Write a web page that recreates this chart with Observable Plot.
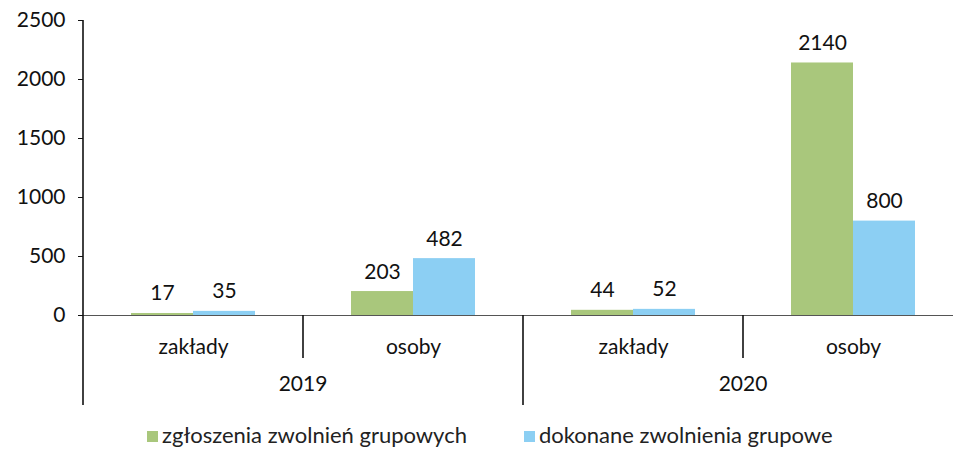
<!DOCTYPE html>
<html>
<head>
<meta charset="utf-8">
<script src="https://cdn.jsdelivr.net/npm/d3@7"></script>
<script src="https://cdn.jsdelivr.net/npm/@observablehq/plot@0.6"></script>
<style>
  html, body { margin: 0; padding: 0; background: #fff; overflow: hidden; }
  body { width: 953px; height: 452px; font-family: Lato, "Open Sans", sans-serif; }
  #chart { width: 953px; height: 415px; overflow: hidden; }
  #chart svg { display: block; overflow: visible; max-width: none !important; width: 963px; height: 415px; }
  .legend { display: flex; align-items: center; margin-left: 147px; margin-top: 6px; gap: 57px; font-size: 22px; color: #222; }
  .legend .item { display: flex; align-items: center; }
  .legend .sw { width: 11px; height: 11px; margin-right: 4px; margin-top: 4px; }
</style>
</head>
<body>
<div id="chart"></div>
<script>
// ---- data ----
const years = ["2019", "2020"];
const subcategories = ["zakłady", "osoby"];
const seriesNames = ["zgłoszenia zwolnień grupowych", "dokonane zwolnienia grupowe"];
const zgloszenia = [17, 203, 44, 2140];   // 2019 zakłady, 2019 osoby, 2020 zakłady, 2020 osoby
const dokonane   = [35, 482, 52, 800];
const yTicks = [0, 500, 1000, 1500, 2000, 2500];
const seriesColors = ["#a9c77c", "#8ccff3"];

// ---- build table ----
const groups = [];
years.forEach(y => subcategories.forEach(s => groups.push({year: y, sub: s, key: y + " " + s})));
const keys = groups.map(g => g.key);
const rows = [];
groups.forEach((g, i) => {
  rows.push({key: g.key, series: seriesNames[0], value: zgloszenia[i]});
  rows.push({key: g.key, series: seriesNames[1], value: dokonane[i]});
});

const chart = Plot.plot({
  width: 963,
  height: 415,
  marginLeft: 83,
  marginRight: 0,
  marginTop: 20,
  marginBottom: 100,
  style: {fontFamily: "Lato, 'Open Sans', sans-serif", fontSize: "21px", color: "#111", background: "transparent"},
  fx: {domain: keys, padding: 0, label: null, tickSize: 0, tickPadding: 24, tickFormat: d => d.split(" ")[1]},
  x: {domain: seriesNames, paddingInner: 0, paddingOuter: 0.75, axis: null},
  y: {domain: [0, 2500], ticks: yTicks, tickSize: 5, tickPadding: 13, label: null, tickFormat: d => String(d)},
  color: {domain: seriesNames, range: seriesColors},
  marks: [
    Plot.barY(rows, {fx: "key", x: "series", y: "value", fill: "series"}),
    Plot.text(rows, {fx: "key", x: "series", y: "value", text: d => String(d.value), lineAnchor: "bottom", dy: -13, fontSize: 21, fill: "#111"}),
    Plot.ruleY([0], {stroke: "#555", strokeWidth: 1.2})
  ]
});

document.getElementById("chart").appendChild(chart);

// ---- structural dividers and year labels, positioned through Plot's scales ----
const fxS = chart.scale("fx");
const yS = chart.scale("y");
const y0 = yS.apply(0);
const yTop = yS.apply(yTicks[yTicks.length - 1]);
const svg = d3.select(chart);
const g = svg.append("g").attr("stroke", "#111").attr("stroke-width", 1.6);
// left axis line (long)
const x0 = fxS.apply(keys[0]);
g.append("line").attr("x1", x0).attr("x2", x0).attr("y1", yTop).attr("y2", y0 + 90);
for (let i = 1; i < groups.length; i++) {
  const x = fxS.apply(keys[i]);
  const long = groups[i].year !== groups[i - 1].year;
  g.append("line").attr("x1", x).attr("x2", x).attr("y1", y0).attr("y2", y0 + (long ? 90 : 43));
}
years.forEach(yr => {
  const first = groups.find(d => d.year === yr).key;
  const cx = fxS.apply(first) + fxS.bandwidth;
  svg.append("text").attr("x", cx).attr("y", y0 + 71).attr("text-anchor", "middle")
    .attr("dominant-baseline", "middle").attr("font-size", 21).attr("fill", "#111").text(yr);
});

// ---- legend ----
const legend = d3.select("body").append("div").attr("class", "legend");
seriesNames.forEach((s, i) => {
  const it = legend.append("div").attr("class", "item");
  it.append("div").attr("class", "sw").style("background", seriesColors[i]);
  it.append("span").text(s);
});
</script>
</body>
</html>
